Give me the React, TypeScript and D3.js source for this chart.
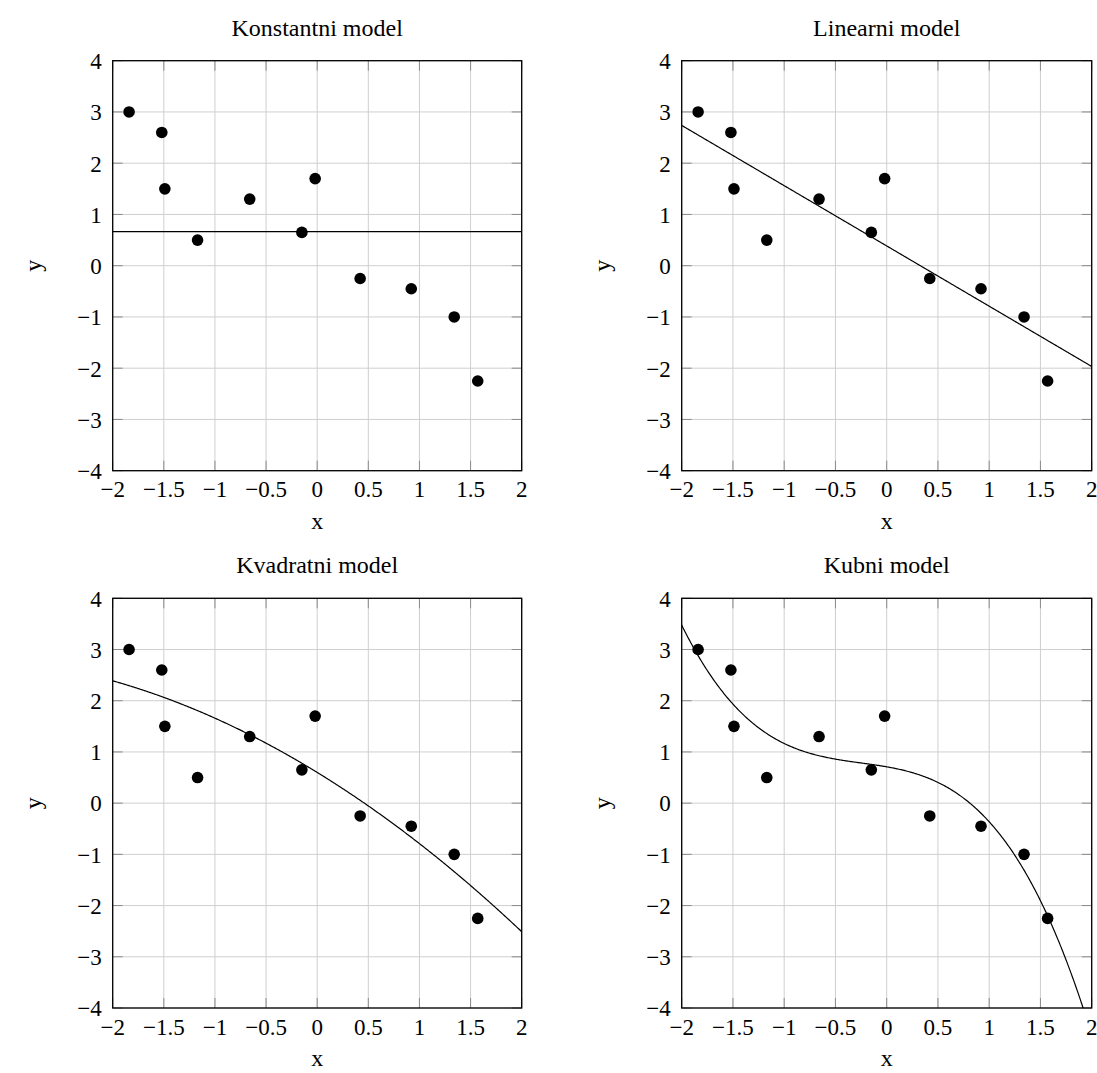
import React, { useEffect, useRef } from 'react';
import * as d3 from 'd3';

// measured points (same in every panel)
const xData = [-1.84, -1.52, -1.49, -1.17, -0.66, -0.02, -0.15, 0.42, 0.92, 1.34, 1.57];
const yData = [3, 2.6, 1.5, 0.5, 1.3, 1.7, 0.65, -0.25, -0.45, -1, -2.25];

const panelTitles = ['Konstantni model', 'Linearni model', 'Kvadratni model', 'Kubni model'];
const modelDegrees = [0, 1, 2, 3];

const xTicks = [-2, -1.5, -1, -0.5, 0, 0.5, 1, 1.5, 2];
const yTicks = [-4, -3, -2, -1, 0, 1, 2, 3, 4];

// least squares polynomial fit, returns coefficients c0..cn
function polyFit(xs: number[], ys: number[], deg: number): number[] {
    const n = deg + 1;
    const A: number[][] = [];
    for (let i = 0; i < n; i++) {
        const row: number[] = [];
        for (let j = 0; j < n; j++) {
            row.push(d3.sum(xs, x => Math.pow(x, i + j)));
        }
        row.push(d3.sum(xs, (x, k) => Math.pow(x, i) * ys[k]));
        A.push(row);
    }
    for (let c = 0; c < n; c++) {
        let p = c;
        for (let r = c + 1; r < n; r++) if (Math.abs(A[r][c]) > Math.abs(A[p][c])) p = r;
        [A[c], A[p]] = [A[p], A[c]];
        for (let r = 0; r < n; r++) {
            if (r === c) continue;
            const f = A[r][c] / A[c][c];
            for (let k = c; k <= n; k++) A[r][k] -= f * A[c][k];
        }
    }
    return A.map((row, i) => row[n] / A[i][i]);
}

const fmt = (t: number) => (t < 0 ? '\u2212' + Math.abs(t) : String(t));

const App = () => {
    const svgRef = useRef<SVGSVGElement>(null);

    useEffect(() => {
        const svg = d3.select(svgRef.current);
        svg.selectAll('*').remove();

        const font = '"Liberation Serif", "Times New Roman", serif';
        const tickSize = 23;
        const labelSize = 24;
        const cols = [[112.7, 521.7], [681.7, 1091.7]];
        const rows = [[60.7, 470.7], [598.3, 1008]];

        panelTitles.forEach((title, idx) => {
            const [x0, x1] = cols[idx % 2];
            const [y0, y1] = rows[Math.floor(idx / 2)];

            const xScale = d3.scaleLinear().domain([-2, 2]).range([x0, x1]);
            const yScale = d3.scaleLinear().domain([-4, 4]).range([y1, y0]);

            const g = svg.append('g');

            const clipId = `clip-${idx}`;
            g.append('clipPath')
                .attr('id', clipId)
                .append('rect')
                .attr('x', x0)
                .attr('y', y0)
                .attr('width', x1 - x0)
                .attr('height', y1 - y0);

            // Grid
            g.append('g')
                .selectAll('line')
                .data(xTicks)
                .enter()
                .append('line')
                .attr('x1', d => xScale(d))
                .attr('x2', d => xScale(d))
                .attr('y1', y0)
                .attr('y2', y1)
                .style('stroke', '#cfcfcf')
                .style('stroke-width', 1);

            g.append('g')
                .selectAll('line')
                .data(yTicks)
                .enter()
                .append('line')
                .attr('x1', x0)
                .attr('x2', x1)
                .attr('y1', d => yScale(d))
                .attr('y2', d => yScale(d))
                .style('stroke', '#cfcfcf')
                .style('stroke-width', 1);

            // Tick marks (inside, all four sides)
            const tickLen = 10;
            const ticks = g.append('g').style('stroke', '#8c8c8c').style('stroke-width', 1);
            xTicks.forEach(t => {
                ticks.append('line').attr('x1', xScale(t)).attr('x2', xScale(t)).attr('y1', y1).attr('y2', y1 - tickLen);
                ticks.append('line').attr('x1', xScale(t)).attr('x2', xScale(t)).attr('y1', y0).attr('y2', y0 + tickLen);
            });
            yTicks.forEach(t => {
                ticks.append('line').attr('x1', x0).attr('x2', x0 + tickLen).attr('y1', yScale(t)).attr('y2', yScale(t));
                ticks.append('line').attr('x1', x1).attr('x2', x1 - tickLen).attr('y1', yScale(t)).attr('y2', yScale(t));
            });

            // Model curve
            const coeffs = polyFit(xData, yData, modelDegrees[idx]);
            const samples = d3.range(0, 401).map(i => -2 + i * 0.01);
            const line = d3.line<number>()
                .x(x => xScale(x))
                .y(x => yScale(coeffs.reduce((s, c, k) => s + c * Math.pow(x, k), 0)));

            g.append('path')
                .datum(samples)
                .attr('clip-path', `url(#${clipId})`)
                .attr('d', line)
                .style('fill', 'none')
                .style('stroke', '#000')
                .style('stroke-width', 1.2);

            // Points
            g.append('g')
                .selectAll('circle')
                .data(xData)
                .enter()
                .append('circle')
                .attr('cx', d => xScale(d))
                .attr('cy', (d, i) => yScale(yData[i]))
                .attr('r', 5.8)
                .style('fill', '#000');

            // Frame
            g.append('rect')
                .attr('x', x0)
                .attr('y', y0)
                .attr('width', x1 - x0)
                .attr('height', y1 - y0)
                .style('fill', 'none')
                .style('stroke', '#000')
                .style('stroke-width', 1.3);

            // Tick labels
            g.append('g')
                .selectAll('text')
                .data(xTicks)
                .enter()
                .append('text')
                .attr('x', d => xScale(d))
                .attr('y', y1 + 26.5)
                .attr('text-anchor', 'middle')
                .style('font-family', font)
                .style('font-size', tickSize + 'px')
                .text(d => fmt(d));

            g.append('g')
                .selectAll('text')
                .data(yTicks)
                .enter()
                .append('text')
                .attr('x', x0 - 11)
                .attr('y', d => yScale(d) + 8.3)
                .attr('text-anchor', 'end')
                .style('font-family', font)
                .style('font-size', tickSize + 'px')
                .text(d => fmt(d));

            // Axis labels
            g.append('text')
                .attr('x', (x0 + x1) / 2)
                .attr('y', y1 + 58)
                .attr('text-anchor', 'middle')
                .style('font-family', font)
                .style('font-size', labelSize + 'px')
                .text('x');

            g.append('text')
                .attr('transform', `translate(${x0 - 72}, ${(y0 + y1) / 2}) rotate(-90)`)
                .attr('text-anchor', 'middle')
                .style('font-family', font)
                .style('font-size', labelSize + 'px')
                .text('y');

            // Title
            g.append('text')
                .attr('x', (x0 + x1) / 2)
                .attr('y', y0 - 25)
                .attr('text-anchor', 'middle')
                .style('font-family', font)
                .style('font-size', labelSize + 'px')
                .text(title);
        });
    }, []);

    return (
        <svg
            ref={svgRef}
            width={1097}
            height={1073}
            style={{ position: 'absolute', left: 0, top: 0, display: 'block', background: '#fff' }}
        ></svg>
    );
};

export default App;
